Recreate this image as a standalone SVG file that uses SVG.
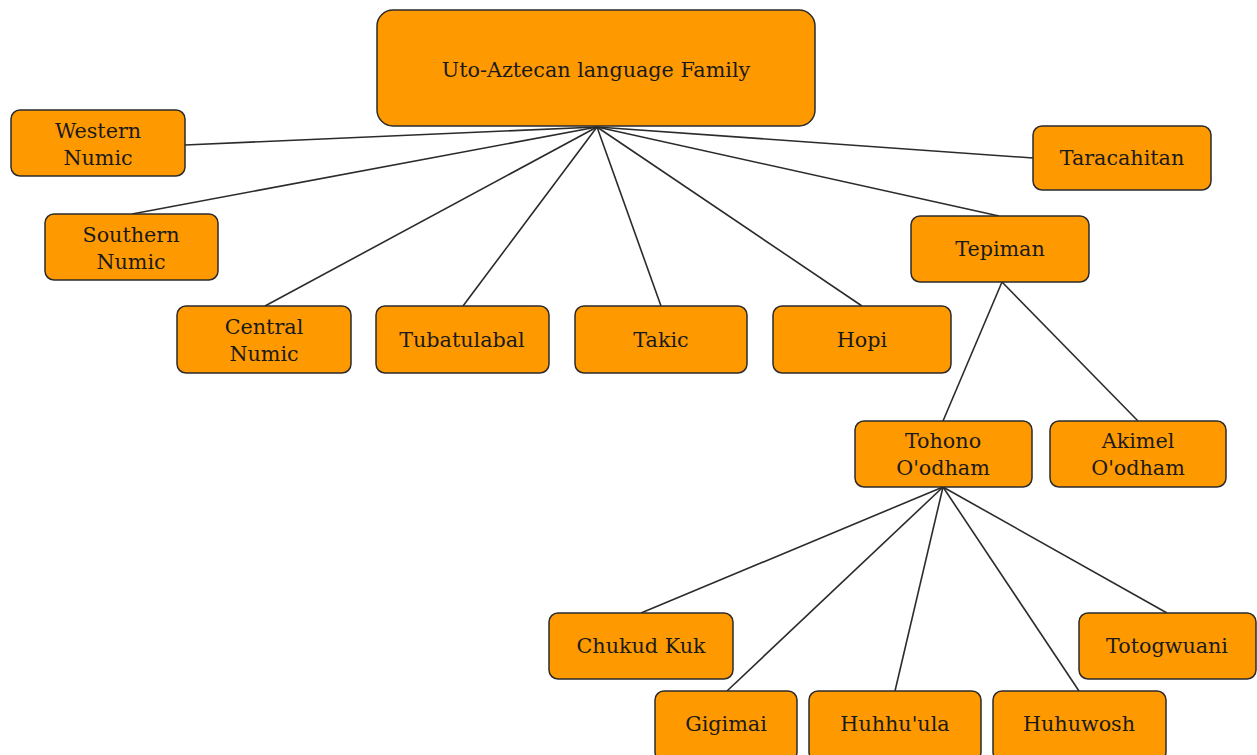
<svg xmlns="http://www.w3.org/2000/svg" width="1257" height="755" viewBox="0 0 1257 755">
<style>
.n rect{fill:#ff9900;stroke:#2b2b2b;stroke-width:1.5}
.n text{font-family:"DejaVu Serif","Liberation Serif",serif;font-size:20.7px;fill:#1a1a1a;text-anchor:middle}
.c line{stroke:#2b2b2b;stroke-width:1.6}
</style>
<rect width="1257" height="755" fill="#fff"/>
<g class="c">
<line x1="597" y1="127" x2="185" y2="145"/>
<line x1="597" y1="127" x2="132" y2="214"/>
<line x1="597" y1="127" x2="265" y2="306"/>
<line x1="597" y1="127" x2="463" y2="306"/>
<line x1="597" y1="127" x2="661" y2="306"/>
<line x1="597" y1="127" x2="862" y2="306"/>
<line x1="597" y1="127" x2="999" y2="216"/>
<line x1="597" y1="127" x2="1033" y2="158"/>
<line x1="1002" y1="282" x2="943" y2="421"/>
<line x1="1002" y1="282" x2="1138" y2="421"/>
<line x1="943" y1="487" x2="641" y2="613"/>
<line x1="943" y1="487" x2="727" y2="691"/>
<line x1="943" y1="487" x2="895" y2="691"/>
<line x1="943" y1="487" x2="1079" y2="691"/>
<line x1="943" y1="487" x2="1167" y2="613"/>
</g>
<g class="n" id="root"><rect x="377" y="10" width="438" height="116" rx="16"/><text x="596" y="77">Uto-Aztecan language Family</text></g>
<g class="n" id="western"><rect x="11" y="110" width="174" height="66" rx="9"/><text x="98" y="138">Western</text><text x="98" y="165">Numic</text></g>
<g class="n" id="southern"><rect x="45" y="214" width="173" height="66" rx="9"/><text x="131" y="242">Southern</text><text x="131" y="269">Numic</text></g>
<g class="n" id="central"><rect x="177" y="306" width="174" height="67" rx="9"/><text x="264" y="334">Central</text><text x="264" y="361">Numic</text></g>
<g class="n" id="tubatulabal"><rect x="376" y="306" width="173" height="67" rx="9"/><text x="462" y="347">Tubatulabal</text></g>
<g class="n" id="takic"><rect x="575" y="306" width="172" height="67" rx="9"/><text x="661" y="347">Takic</text></g>
<g class="n" id="hopi"><rect x="773" y="306" width="178" height="67" rx="9"/><text x="862" y="347">Hopi</text></g>
<g class="n" id="taracahitan"><rect x="1033" y="126" width="178" height="64" rx="9"/><text x="1122" y="165">Taracahitan</text></g>
<g class="n" id="tepiman"><rect x="911" y="216" width="178" height="66" rx="9"/><text x="1000" y="256">Tepiman</text></g>
<g class="n" id="tohono"><rect x="855" y="421" width="177" height="66" rx="9"/><text x="943" y="448">Tohono</text><text x="943" y="475">O'odham</text></g>
<g class="n" id="akimel"><rect x="1050" y="421" width="176" height="66" rx="9"/><text x="1138" y="448">Akimel</text><text x="1138" y="475">O'odham</text></g>
<g class="n" id="chukud"><rect x="549" y="613" width="184" height="66" rx="9"/><text x="641" y="653">Chukud Kuk</text></g>
<g class="n" id="totogwuani"><rect x="1079" y="613" width="177" height="66" rx="9"/><text x="1167" y="653">Totogwuani</text></g>
<g class="n" id="gigimai"><rect x="655" y="691" width="142" height="70" rx="9"/><text x="726" y="731">Gigimai</text></g>
<g class="n" id="huhhuula"><rect x="809" y="691" width="172" height="70" rx="9"/><text x="895" y="731">Huhhu'ula</text></g>
<g class="n" id="huhuwosh"><rect x="993" y="691" width="173" height="70" rx="9"/><text x="1079" y="731">Huhuwosh</text></g>
</svg>
